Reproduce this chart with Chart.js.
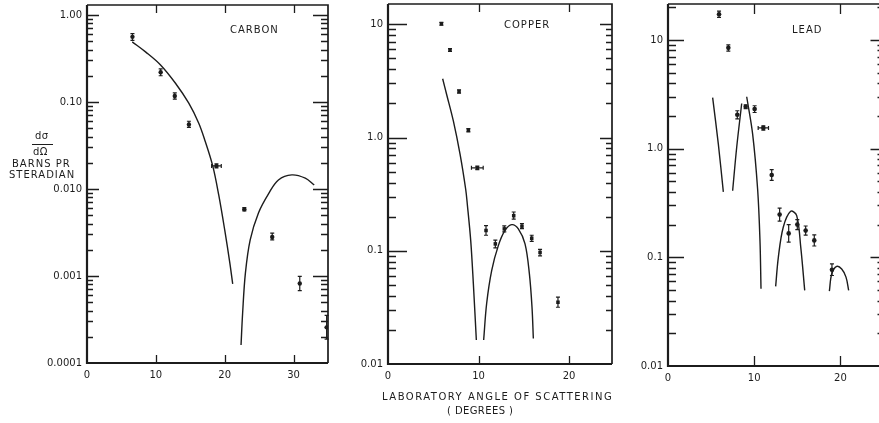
<!DOCTYPE html>
<html><head><meta charset="utf-8">
<script src="https://cdn.jsdelivr.net/npm/chart.js@4.4.0/dist/chart.umd.min.js"></script>
<style>
html,body{margin:0;padding:0;background:#fff;width:879px;height:423px;overflow:hidden;position:relative;}
canvas{position:absolute;top:0;}
.t{position:absolute;font-family:"DejaVu Sans",sans-serif;font-size:10px;color:#1c1c1c;white-space:nowrap;letter-spacing:1px;line-height:10px;}
</style></head><body>
<canvas id="c1" width="332" height="390" style="left:0px"></canvas>
<canvas id="c2" width="300" height="390" style="left:320px"></canvas>
<canvas id="c3" width="290" height="390" style="left:610px"></canvas>

<div class="t" style="left:230px;top:25px;">CARBON</div>
<div class="t" style="left:504px;top:20px;">COPPER</div>
<div class="t" style="left:792px;top:25px;">LEAD</div>

<div class="t" style="left:35px;top:131px;letter-spacing:0.5px;">dσ</div>
<div style="position:absolute;left:32px;top:144px;width:21px;height:0;border-top:1.2px solid #1c1c1c;"></div>
<div class="t" style="left:33px;top:147px;letter-spacing:0.5px;">dΩ</div>
<div class="t" style="left:12px;top:159px;">BARNS PR</div>
<div class="t" style="left:9px;top:170px;">STERADIAN</div>

<div class="t" style="left:382px;top:392px;letter-spacing:1.5px;">LABORATORY ANGLE OF SCATTERING</div>
<div class="t" style="left:447px;top:406px;letter-spacing:0.4px;">( DEGREES )</div>

<script>
// ---------------- CARBON ----------------
const carbonAngle     = [6.6, 10.7, 12.75, 14.8, 18.8, 22.85, 26.9, 30.9, 34.8];
const carbonValue     = [0.56, 0.219, 0.117, 0.055, 0.0184, 0.00585, 0.0028, 0.00082, 0.000257];
const carbonLow       = [0.51, 0.20, 0.108, 0.051, 0.0175, 0.0056, 0.0026, 0.00068, 0.000188];
const carbonHigh      = [0.61, 0.24, 0.127, 0.060, 0.0194, 0.0061, 0.0031, 0.00099, 0.000352];
const carbonAngleErr  = [0, 0, 0, 0, 0.7, 0, 0, 0, 0];
const carbonCurve1Angle = [6.57, 8.5, 10.68, 12.85, 14.78, 16.23, 17.1, 18.26, 19.13, 20.0, 20.72, 21.16];
const carbonCurve1Value = [0.49, 0.376, 0.266, 0.164, 0.0967, 0.057, 0.0366, 0.0184, 0.00853, 0.00338, 0.00145, 0.00081];
const carbonCurve2Angle = [22.37, 22.6, 23.0, 23.7, 24.9, 26.4, 27.8, 29.75, 31.7, 33.0];
const carbonCurve2Value = [0.000161, 0.000373, 0.00107, 0.0026, 0.0053, 0.0089, 0.0127, 0.0145, 0.0133, 0.0111];
const carbonYTicks  = [1, 0.1, 0.01, 0.001, 0.0001];
const carbonYLabels = ["1.00", "0.10", "0.010", "0.001", "0.0001"];
const carbonXTicks  = [0, 10, 20, 30];

// ---------------- COPPER ----------------
const copperAngle    = [5.9, 6.85, 7.85, 8.88, 9.87, 10.83, 11.86, 12.85, 13.89, 14.8, 15.88, 16.8, 18.78];
const copperValue    = [10.1, 5.93, 2.55, 1.16, 0.54, 0.151, 0.115, 0.156, 0.204, 0.165, 0.129, 0.0966, 0.0351];
const copperLow      = [9.8, 5.75, 2.47, 1.12, 0.52, 0.137, 0.106, 0.147, 0.19, 0.157, 0.121, 0.09, 0.0317];
const copperHigh     = [10.4, 6.1, 2.63, 1.2, 0.56, 0.167, 0.124, 0.166, 0.22, 0.174, 0.137, 0.103, 0.0389];
const copperAngleErr = [0, 0, 0, 0, 0.65, 0, 0, 0, 0, 0, 0, 0, 0];
const copperCurve1Angle = [6.04, 6.48, 7.22, 7.96, 8.58, 8.76, 9.14, 9.43, 9.76];
const copperCurve1Value = [3.3, 2.4, 1.4, 0.713, 0.351, 0.259, 0.123, 0.0513, 0.0163];
const copperCurve2Angle = [10.57, 10.9, 11.46, 12.19, 12.93, 13.67, 14.4, 15.14, 15.62, 15.91, 16.06];
const copperCurve2Value = [0.0163, 0.0342, 0.0671, 0.111, 0.151, 0.170, 0.156, 0.115, 0.0628, 0.0319, 0.0168];
const copperYTicks  = [10, 1, 0.1, 0.01];
const copperYLabels = ["10", "1.0", "0.1", "0.01"];
const copperXTicks  = [0, 10, 20];

// ---------------- LEAD ----------------
const leadAngle    = [5.92, 7.0, 8.04, 9.01, 10.05, 11.06, 12.03, 12.95, 14.0, 15.0, 15.97, 16.97, 19.02];
const leadValue    = [17.2, 8.45, 2.05, 2.43, 2.31, 1.55, 0.572, 0.247, 0.166, 0.2, 0.176, 0.143, 0.0768];
const leadLow      = [16.1, 7.9, 1.88, 2.33, 2.15, 1.48, 0.51, 0.215, 0.138, 0.18, 0.16, 0.127, 0.068];
const leadHigh     = [18.4, 9.0, 2.23, 2.53, 2.48, 1.62, 0.64, 0.284, 0.2, 0.222, 0.194, 0.161, 0.087];
const leadAngleErr = [0, 0, 0, 0, 0, 0.6, 0, 0, 0, 0, 0, 0, 0];
const leadCurveAAngle = [5.18, 5.84, 6.42];
const leadCurveAValue = [2.95, 1.10, 0.40];
const leadCurveBAngle = [7.5, 7.97, 8.55];
const leadCurveBValue = [0.41, 1.03, 2.6];
const leadCurveCAngle = [9.13, 9.82, 10.4, 10.67, 10.79];
const leadCurveCValue = [3.0, 1.36, 0.42, 0.143, 0.0514];
const leadCurveDAngle = [12.49, 12.8, 13.37, 14.23, 14.93, 15.4, 15.86];
const leadCurveDValue = [0.054, 0.1, 0.189, 0.265, 0.242, 0.124, 0.0496];
const leadCurveEAngle = [18.72, 19.0, 19.57, 20.15, 20.65, 20.96];
const leadCurveEValue = [0.0488, 0.0705, 0.0824, 0.078, 0.0657, 0.0496];
const leadYTicks  = [10, 1, 0.1, 0.01];
const leadYLabels = ["10", "1.0", "0.1", "0.01"];
const leadXTicks  = [0, 10, 20];

// ---------------- drawing ----------------
const INK = '#1c1c1c';
const FONT = '"DejaVu Sans", sans-serif';
const zip = (xs, ys) => xs.map((x, i) => ({x: x, y: ys[i]}));

const axisDeco = {
  id: 'axisDeco',
  afterDraw(chart, args, o) {
    const ctx = chart.ctx, a = chart.chartArea;
    const xs = chart.scales.x, ys = chart.scales.y;
    ctx.save();
    ctx.strokeStyle = INK;
    ctx.lineWidth = 1.3;
    ctx.beginPath();
    const yMin = ys.min, yMax = ys.max;
    for (let e = Math.floor(Math.log10(yMin)); e <= Math.ceil(Math.log10(yMax)); e++) {
      for (let k = 1; k <= 9; k++) {
        const v = k * Math.pow(10, e);
        if (v <= yMin * 1.0001 || v > yMax) continue;
        const py = Math.round(ys.getPixelForValue(v)) + 0.5;
        const major = k === 1;
        const L = major ? o.lMajor : o.lMinor;
        const R = major ? o.rMajor : o.rMinor;
        ctx.moveTo(a.left, py); ctx.lineTo(a.left + L, py);
        ctx.moveTo(a.right, py); ctx.lineTo(a.right - R, py);
      }
    }
    o.xTicks.forEach(v => {
      if (v <= xs.min || v >= xs.max) return;
      const px = Math.round(xs.getPixelForValue(v)) + 0.5;
      ctx.moveTo(px, a.bottom); ctx.lineTo(px, a.bottom - o.xLen);
      ctx.moveTo(px, a.top); ctx.lineTo(px, a.top + o.xLen);
    });
    ctx.stroke();
    ctx.lineWidth = 2.2;
    ctx.beginPath();
    ctx.moveTo(a.left, a.top); ctx.lineTo(a.left, a.bottom); ctx.lineTo(a.right, a.bottom);
    ctx.stroke();
    ctx.lineWidth = 1.7;
    ctx.beginPath();
    ctx.moveTo(a.left, a.top); ctx.lineTo(a.right, a.top); ctx.lineTo(a.right, a.bottom);
    ctx.stroke();
    ctx.restore();
  }
};

const errorBars = {
  id: 'errorBars',
  afterDatasetsDraw(chart) {
    const ctx = chart.ctx, xs = chart.scales.x, ys = chart.scales.y;
    ctx.save();
    ctx.strokeStyle = INK;
    ctx.lineWidth = 1.2;
    chart.data.datasets.forEach(ds => {
      if (!ds.errLow) return;
      ds.data.forEach((p, i) => {
        const px = xs.getPixelForValue(p.x), py = ys.getPixelForValue(p.y);
        const lo = ys.getPixelForValue(ds.errLow[i]), hi = ys.getPixelForValue(ds.errHigh[i]);
        ctx.beginPath();
        ctx.moveTo(px, lo); ctx.lineTo(px, hi);
        ctx.moveTo(px - 2, lo); ctx.lineTo(px + 2, lo);
        ctx.moveTo(px - 2, hi); ctx.lineTo(px + 2, hi);
        const xe = ds.xErr[i];
        if (xe) {
          const l = xs.getPixelForValue(p.x - xe), r = xs.getPixelForValue(p.x + xe);
          ctx.moveTo(l, py); ctx.lineTo(r, py);
          ctx.moveTo(l, py - 2); ctx.lineTo(l, py + 2);
          ctx.moveTo(r, py - 2); ctx.lineTo(r, py + 2);
        }
        ctx.stroke();
      });
    });
    ctx.restore();
  }
};

function curve(xs, ys) {
  return {
    data: zip(xs, ys), showLine: true, pointRadius: 0, borderColor: INK, borderWidth: 1.4,
    tension: 0.35, fill: false
  };
}
function points(xs, ys, lo, hi, xe, style, r) {
  return {
    data: zip(xs, ys), showLine: false, pointStyle: style, pointRadius: r,
    backgroundColor: INK, borderColor: INK, borderWidth: 0,
    errLow: lo, errHigh: hi, xErr: xe
  };
}

function noPad(s) { s.paddingTop = 0; s.paddingBottom = 0; s.paddingLeft = 0; s.paddingRight = 0; }

function makeChart(id, c) {
  new Chart(document.getElementById(id), {
    type: 'scatter',
    data: { datasets: c.datasets },
    plugins: [axisDeco, errorBars],
    options: {
      responsive: false, animation: false, devicePixelRatio: 1,
      layout: { padding: { left: 0, right: c.padRight, top: c.padTop, bottom: 0 } },
      plugins: {
        legend: { display: false }, tooltip: { enabled: false },
        axisDeco: c.deco
      },
      scales: {
        x: {
          type: 'linear', min: 0, max: c.xMax,
          grid: { display: false, drawTicks: false, tickLength: 0 }, border: { display: false },
          afterBuildTicks: s => { s.ticks = c.xTicks.map(v => ({ value: v })); },
          afterFit: s => { s.height = c.xH; noPad(s); },
          ticks: { padding: c.xPad, color: INK, autoSkip: false, maxRotation: 0,
                   font: { family: FONT, size: 10 }, callback: v => String(v) }
        },
        y: {
          type: 'logarithmic', min: c.yMin, max: c.yMax,
          grid: { display: false, drawTicks: false, tickLength: 0 }, border: { display: false },
          afterBuildTicks: s => { s.ticks = c.yTicks.map(v => ({ value: v })); },
          afterFit: s => { s.width = c.yW; noPad(s); },
          ticks: { padding: 5, color: INK, autoSkip: false,
                   font: { family: FONT, size: 10 },
                   callback: v => { const i = c.yTicks.indexOf(v); return i >= 0 ? c.yLabels[i] : ''; } }
        }
      }
    }
  });
}

makeChart('c1', {
  xMax: 35, yMin: 0.0001, yMax: 1.3, xTicks: carbonXTicks, yTicks: carbonYTicks, yLabels: carbonYLabels,
  yW: 87, xH: 27, xPad: 6, padRight: 2, padTop: 5,
  deco: { lMajor: 12, lMinor: 6, rMajor: 15, rMinor: 7, xLen: 8, xTicks: carbonXTicks },
  datasets: [
    curve(carbonCurve1Angle, carbonCurve1Value),
    curve(carbonCurve2Angle, carbonCurve2Value),
    points(carbonAngle, carbonValue, carbonLow, carbonHigh, carbonAngleErr, 'circle', 2.2)
  ]
});

makeChart('c2', {
  xMax: 24.75, yMin: 0.01, yMax: 15.1, xTicks: copperXTicks, yTicks: copperYTicks, yLabels: copperYLabels,
  yW: 68, xH: 26, xPad: 6, padRight: 8, padTop: 3,
  deco: { lMajor: 19, lMinor: 8, rMajor: 12, rMinor: 6, xLen: 8, xTicks: copperXTicks },
  datasets: [
    curve(copperCurve1Angle, copperCurve1Value),
    curve(copperCurve2Angle, copperCurve2Value),
    points(copperAngle, copperValue, copperLow, copperHigh, copperAngleErr, 'rect', 2.5)
  ]
});

makeChart('c3', {
  xMax: 25, yMin: 0.01, yMax: 21.4, xTicks: leadXTicks, yTicks: leadYTicks, yLabels: leadYLabels,
  yW: 58, xH: 24, xPad: 6, padRight: 16.5, padTop: 3,
  deco: { lMajor: 16, lMinor: 8, rMajor: 13, rMinor: 6, xLen: 10, xTicks: leadXTicks },
  datasets: [
    curve(leadCurveAAngle, leadCurveAValue),
    curve(leadCurveBAngle, leadCurveBValue),
    curve(leadCurveCAngle, leadCurveCValue),
    curve(leadCurveDAngle, leadCurveDValue),
    curve(leadCurveEAngle, leadCurveEValue),
    points(leadAngle, leadValue, leadLow, leadHigh, leadAngleErr, 'circle', 2.3)
  ]
});
</script>
</body></html>
